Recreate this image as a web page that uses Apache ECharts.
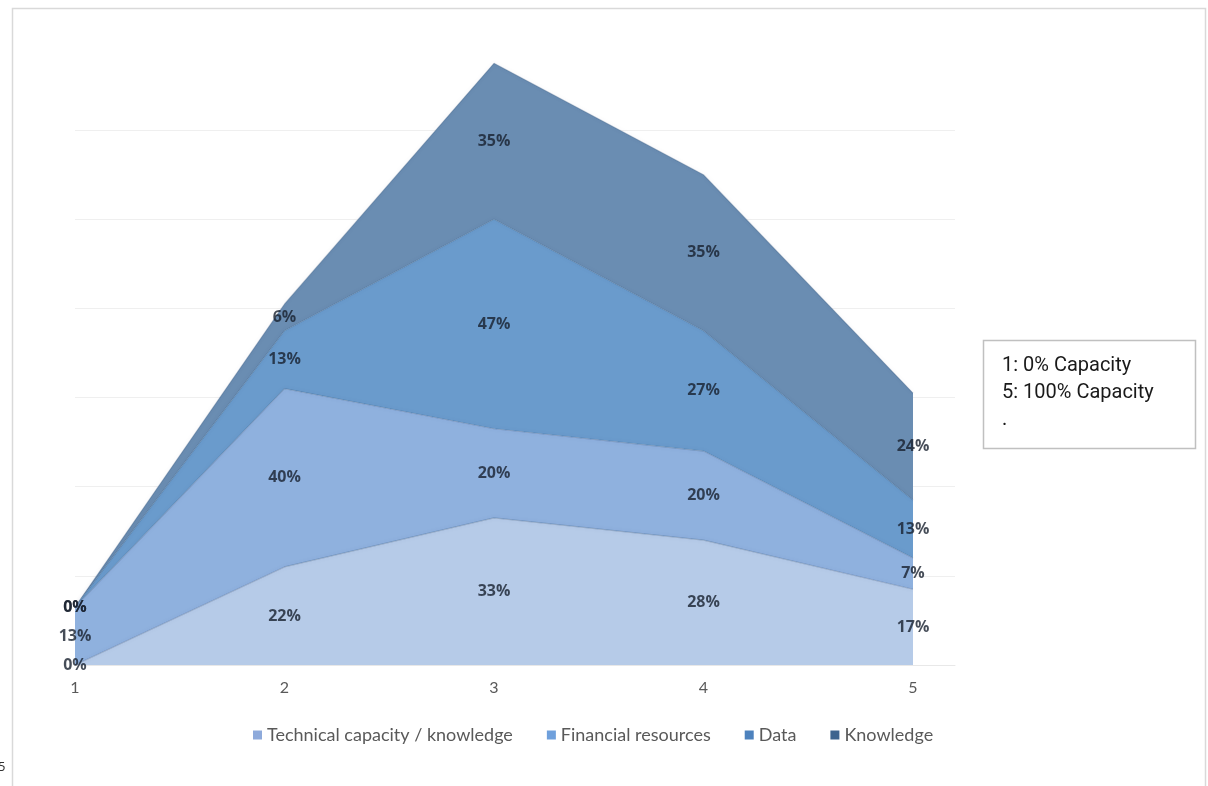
<!DOCTYPE html>
<html>
<head>
<meta charset="utf-8">
<script src="https://cdn.jsdelivr.net/npm/echarts@6/dist/echarts.min.js"></script>
<style>
html,body{margin:0;padding:0;background:#fff;}
#chart{width:1208px;height:786px;}
</style>
</head>
<body>
<div id="chart"></div>
<script>
// ---- data ----
const categories = ['1', '2', '3', '4', '5'];
const seriesNames = ['Technical capacity / knowledge', 'Financial resources', 'Data', 'Knowledge'];
const technical = [0, 22, 33, 28, 17];
const financial = [13, 40, 20, 20, 7];
const dataSeries = [0, 13, 47, 27, 13];
const knowledge = [0, 6, 35, 35, 24];
const noteLines = ['1: 0% Capacity', '5: 100% Capacity', '.'];

const areaColors = ['#b6cbe8', '#8fb1de', '#6a9bcc', '#6a8db2'];
const legendColors = ['#8eaadb', '#6fa0dc', '#4d82bd', '#3e648e'];

const allValues = [technical, financial, dataSeries, knowledge];

const series = [];
allValues.forEach((vals, i) => {
  series.push({
    name: seriesNames[i],
    type: 'line',
    stack: 'total',
    symbol: 'none',
    xAxisIndex: 0,
    yAxisIndex: 0,
    z: 2 + (allValues.length - i) * 0.01,
    lineStyle: { width: 1.2, color: 'rgba(55,85,125,0.3)', shadowBlur: 4, shadowColor: 'rgba(40,70,110,0.25)' },
    itemStyle: { color: legendColors[i] },
    areaStyle: { color: areaColors[i], opacity: 1 },
    data: vals
  });
});

// label series at the middle of each band
allValues.forEach((vals, i) => {
  const pts = vals.map((v, k) => {
    let below = 0;
    for (let j = 0; j < i; j++) below += allValues[j][k];
    return [categories[k], below + v / 2, v];
  });
  series.push({
    type: 'scatter',
    xAxisIndex: 0,
    yAxisIndex: 0,
    symbolSize: 1,
    silent: true,
    z: 5,
    itemStyle: { color: 'transparent' },
    label: {
      show: true,
      position: 'inside',
      formatter: p => p.value[2] + '%',
      fontFamily: '"Open Sans", "Noto Sans", sans-serif',
      fontWeight: 'bold',
      fontSize: 16,
      color: '#18202e'
    },
    data: pts
  });
});

const chart = echarts.init(document.getElementById('chart'));
chart.setOption({
  backgroundColor: '#ffffff',
  animation: false,
  grid: [
    { left: 75, right: 295, top: 41, bottom: 121, containLabel: false },
    { left: 75, right: 253, top: 41, bottom: 121, containLabel: false }
  ],
  xAxis: [
    {
      gridIndex: 0,
      type: 'category',
      data: categories,
      boundaryGap: false,
      axisLine: { show: false },
      axisTick: { show: false },
      splitLine: { show: false },
      axisLabel: { color: '#595959', fontSize: 16, fontFamily: 'Lato, "Open Sans", sans-serif', margin: 15 }
    },
    {
      gridIndex: 1,
      type: 'value',
      min: 0,
      max: 1,
      axisLine: { show: true, lineStyle: { color: '#e8e8e8' } },
      axisTick: { show: false },
      axisLabel: { show: false },
      splitLine: { show: false }
    }
  ],
  yAxis: [
    {
      gridIndex: 0,
      type: 'value',
      min: 0,
      max: 140,
      interval: 20,
      axisLine: { show: false },
      axisTick: { show: false },
      axisLabel: { show: false },
      splitLine: { show: false }
    },
    {
      gridIndex: 1,
      type: 'value',
      min: 0,
      max: 140,
      interval: 20,
      axisLine: { show: false },
      axisTick: { show: false },
      axisLabel: { show: false },
      splitLine: { show: true, showMinLine: false, showMaxLine: false, lineStyle: { color: '#efefef', width: 1 } }
    }
  ],
  legend: {
    data: seriesNames,
    bottom: 37,
    left: 248,
    icon: 'rect',
    itemWidth: 9,
    itemHeight: 9,
    itemGap: 34,
    textStyle: { color: '#595959', fontSize: 18, fontFamily: 'Lato, "Open Sans", sans-serif' }
  },
  graphic: [
    { type: 'rect', shape: { x: 12.5, y: 8.5, width: 1193, height: 800 }, style: { fill: 'none', stroke: '#d9d9d9', lineWidth: 1.5 }, silent: true },
    { type: 'rect', shape: { x: 983.5, y: 340.5, width: 212, height: 108 }, style: { fill: '#fff', stroke: '#c0c0c0', lineWidth: 1.5 }, silent: true },
    { type: 'text', left: 1002, top: 352, style: { text: noteLines.join('\n'), fill: '#1a1a1a', font: '20px Roboto, "Noto Sans", sans-serif', lineHeight: 27 }, silent: true },
    { type: 'text', left: -2, top: 761, style: { text: '5', fill: '#333', font: '13px "Noto Sans", sans-serif' }, silent: true }
  ],
  series: series
});
</script>
</body>
</html>
